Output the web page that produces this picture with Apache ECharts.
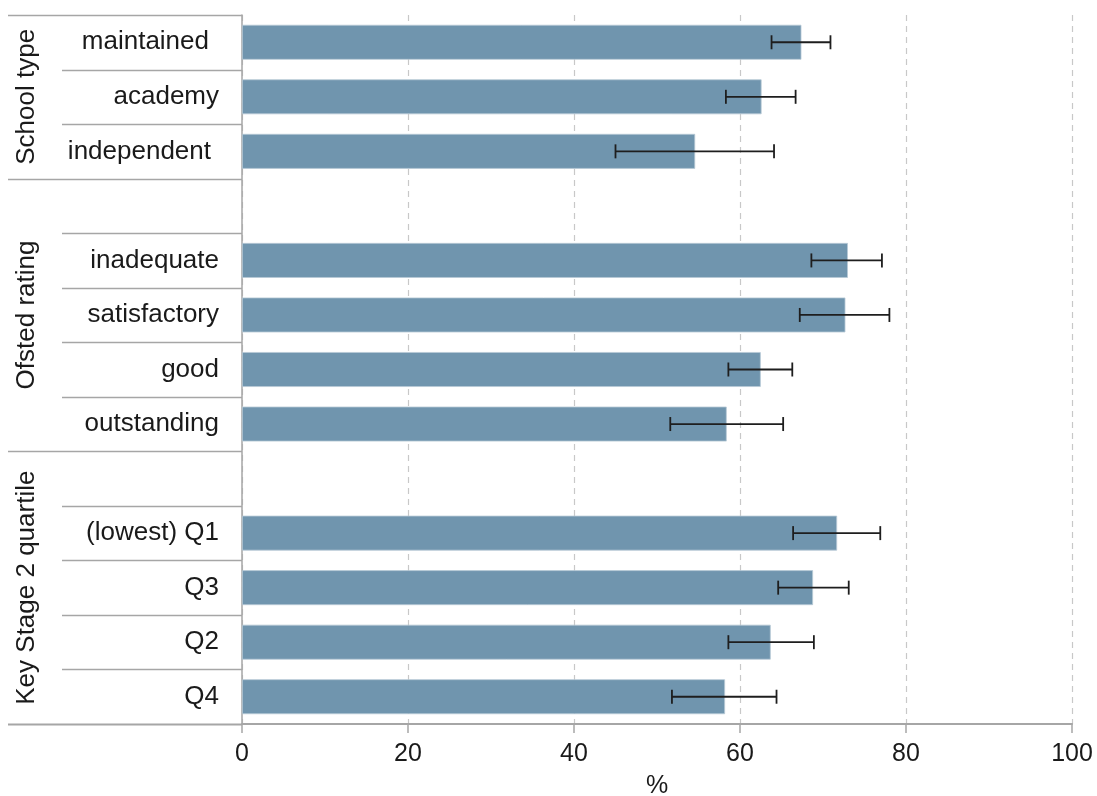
<!DOCTYPE html>
<html>
<head>
<meta charset="utf-8">
<script src="https://cdn.jsdelivr.net/npm/echarts@6/dist/echarts.min.js"></script>
<style>html,body{margin:0;padding:0;background:#fff}#c{width:1097px;height:796px}</style>
</head>
<body>
<div id="c"></div>
<script>
const categories = ['maintained','academy','independent','gap1','inadequate','satisfactory','good','outstanding','gap2','(lowest) Q1','Q3','Q2','Q4'];
const values = [67.4, 62.6, 54.6, null, 73.0, 72.7, 62.5, 58.4, null, 71.7, 68.8, 63.7, 58.2];
const lower  = [63.8, 58.3, 45.0, null, 68.6, 67.2, 58.6, 51.6, null, 66.4, 64.6, 58.6, 51.8];
const upper  = [70.9, 66.7, 64.1, null, 77.1, 78.0, 66.3, 65.2, null, 76.9, 73.1, 68.9, 64.4];
const groups = [
  {name: 'School type', from: 0, to: 3},
  {name: 'Ofsted rating', from: 3, to: 8},
  {name: 'Key Stage 2 quartile', from: 8, to: 13}
];
const xTicks = [0, 20, 40, 60, 80, 100];

const FONT = 'Liberation Sans, Arial, sans-serif';
const FS = 25;
const FSL = 26;
const labelPad = {maintained: 10, independent: 8};

const chart = echarts.init(document.getElementById('c'), null, {renderer: 'canvas'});
const option = {
  animation: false,
  grid: {left: 242, right: 25, top: 15, bottom: 72, containLabel: false, outerBoundsMode: 'none'},
  xAxis: {
    type: 'value', min: xTicks[0], max: xTicks[xTicks.length - 1], interval: 20,
    name: '%', nameLocation: 'middle', nameGap: 50,
    nameTextStyle: {fontFamily: FONT, fontSize: FS, color: '#1a1a1a'},
    axisLine: {show: true, lineStyle: {color: '#a6a6a6', width: 2}},
    axisTick: {show: true, length: 9, lineStyle: {color: '#a6a6a6', width: 1.5}},
    axisLabel: {fontFamily: FONT, fontSize: FS, color: '#1a1a1a', margin: 18},
    splitLine: {show: true, lineStyle: {color: '#c8c8c8', type: [6, 5], width: 1.2}}
  },
  yAxis: {
    type: 'category', inverse: true,
    data: categories.map(c => c.startsWith('gap') ? {value: c, textStyle: {color: 'transparent'}} : {value: c, textStyle: {padding: [0, labelPad[c] || 0, 0, 0]}}),
    axisLine: {show: true, lineStyle: {color: '#a6a6a6', width: 1.5}},
    axisTick: {show: false},
    axisLabel: {fontFamily: FONT, fontSize: FSL, color: '#1a1a1a', margin: 23,
      formatter: v => v.startsWith('gap') ? '' : v},
    splitLine: {show: false}
  },
  series: [
    {
      type: 'bar', data: values, barCategoryGap: '36%',
      itemStyle: {color: '#7095ae', borderColor: '#b7c9d6', borderWidth: 0.8}
    },
    {
      type: 'custom',
      data: categories.map((c, i) => [i, lower[i], upper[i]]).filter(d => d[1] !== null),
      encode: {y: 0, x: [1, 2]},
      renderItem: function (params, api) {
        const i = api.value(0);
        const lo = api.coord([api.value(1), i]);
        const hi = api.coord([api.value(2), i]);
        const h = 7;
        const st = {stroke: '#1e1e1e', lineWidth: 1.8};
        return {type: 'group', children: [
          {type: 'line', shape: {x1: lo[0], y1: lo[1], x2: hi[0], y2: hi[1]}, style: st},
          {type: 'line', shape: {x1: lo[0], y1: lo[1] - h, x2: lo[0], y2: lo[1] + h}, style: st},
          {type: 'line', shape: {x1: hi[0], y1: hi[1] - h, x2: hi[0], y2: hi[1] + h}, style: st}
        ]};
      },
      z: 5
    }
  ]
};
chart.setOption(option);

// table lines and group labels placed through the category axis scale
const c0 = chart.convertToPixel({yAxisIndex: 0}, 0);
const c1 = chart.convertToPixel({yAxisIndex: 0}, 1);
const band = c1 - c0;
const boundary = i => c0 + (i - 0.5) * band;
const groupEdges = new Set();
groups.forEach(g => { groupEdges.add(g.from); groupEdges.add(g.to); });
const xRight = chart.convertToPixel({xAxisIndex: 0}, 0);
const elems = [];
for (let i = 0; i <= categories.length; i++) {
  const y = Math.round(boundary(i)) + 0.5;
  const full = groupEdges.has(i);
  if (i === categories.length) {
    elems.push({type: 'line', shape: {x1: 8, y1: y, x2: xRight, y2: y}, style: {stroke: '#a6a6a6', lineWidth: 2}});
  } else {
    elems.push({type: 'line', shape: {x1: full ? 8 : 62, y1: y, x2: xRight, y2: y}, style: {stroke: '#a6a6a6', lineWidth: 1.5}});
  }
}
groups.forEach(g => {
  const yc = (boundary(g.from) + boundary(g.to)) / 2;
  elems.push({
    type: 'text', x: 27, y: yc, rotation: Math.PI / 2,
    style: {text: g.name, fontFamily: FONT, fontSize: FSL, fill: '#1a1a1a', align: 'center', verticalAlign: 'middle'}
  });
});
chart.setOption({graphic: elems});
</script>
</body>
</html>
